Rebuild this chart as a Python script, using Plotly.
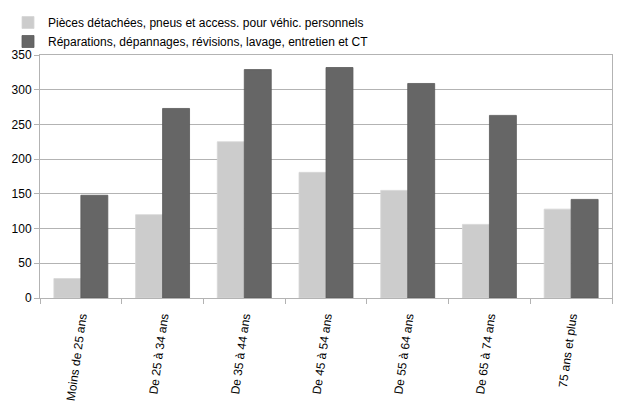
import plotly.graph_objects as go

# ── Data ───────────────────────────────────────────────────────────────────────
categories = [
    "Moins de 25 ans", "De 25 à 34 ans", "De 35 à 44 ans", "De 45 à 54 ans",
    "De 55 à 64 ans", "De 65 à 74 ans", "75 ans et plus",
]
pieces = [28, 120, 225, 181, 155, 106, 128]
reparations = [148, 273, 329, 332, 309, 263, 142]

LIGHT = "#cccccc"
DARK = "#666666"
GRID = "#b3b3b3"

fig = go.Figure()
fig.add_trace(go.Bar(
    x=categories, y=pieces,
    name="Pièces détachées, pneus et access. pour véhic. personnels",
    marker=dict(color=LIGHT, line=dict(color="#d6d6d6", width=0.8)),
))
fig.add_trace(go.Bar(
    x=categories, y=reparations,
    name="Réparations, dépannages, révisions, lavage, entretien et CT",
    marker=dict(color=DARK, line=dict(color="#5a5a5a", width=0.8)),
))

# page body has an 8px margin, so the figure is sized 622x407
# plot area on the page: 40..612 px horizontally, 55..298 px vertically
fig.update_layout(
    width=622, height=407,
    paper_bgcolor="white", plot_bgcolor="white",
    font=dict(family="Liberation Sans, Arial, sans-serif", size=12, color="#000000"),
    margin=dict(l=32, r=18, t=0, b=117),
    barmode="group", bargap=0.34, bargroupgap=0,
    showlegend=True,
    legend=dict(
        x=-0.056, y=1.0, xanchor="left", yanchor="top",
        orientation="v", font=dict(size=12),
        itemwidth=30, tracegroupgap=0,
        bgcolor="rgba(0,0,0,0)",
    ),
    xaxis=dict(
        tickangle=-82, tickson="boundaries", ticks="outside", ticklen=5,
        tickcolor=GRID, showline=True, linecolor=GRID, mirror=True,
        showgrid=False, tickfont=dict(size=12), automargin=False,
        ticklabelstandoff=6,
    ),
    yaxis=dict(
        domain=[0, 1 - 47 / 290],
        range=[0, 350], dtick=50, ticks="outside", ticklen=5, tickcolor=GRID,
        showline=True, linecolor=GRID, mirror=True,
        gridcolor=GRID, gridwidth=1, zeroline=False, tickfont=dict(size=12),
        automargin=False,
    ),
)

fig.write_html("out.html")
